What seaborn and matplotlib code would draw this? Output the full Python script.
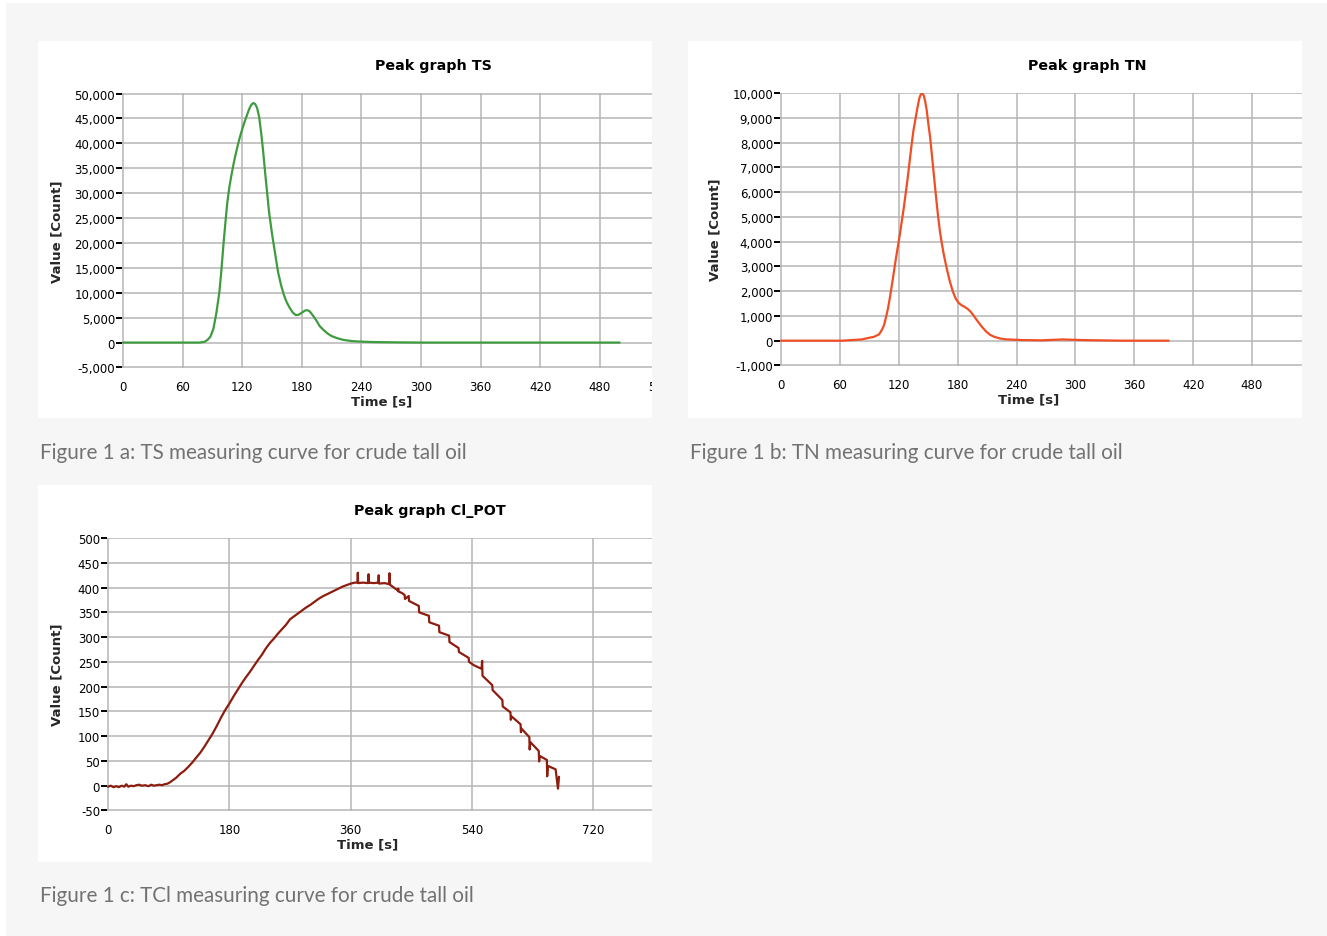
#peak graphs for crude tall oil (TS, TN, TCl)
#redrawn as three panels with captions on a light grey page

import matplotlib
matplotlib.use("Agg")
import matplotlib.pyplot as plt
from matplotlib.patches import Rectangle
from matplotlib.ticker import FuncFormatter, MultipleLocator
import pandas as pd
import seaborn as sns

sns.set_theme(style="whitegrid")
plt.rcParams['font.family'] = ['DejaVu Sans']

# TS curve (time in s, value in counts)
ts_time = [0, 20, 40, 60, 77, 82, 85, 88, 91, 94, 97, 99, 101, 103, 105, 107, 109,
           111, 113, 115, 117, 119, 121, 123, 125, 127, 129, 131, 133, 135, 137,
           139, 141, 143, 145, 147, 150, 153, 156, 159, 162, 165, 168, 171, 174,
           177, 180, 183, 185, 187, 189, 192, 195, 198, 202, 206, 210, 216, 222,
           230, 238, 250, 263, 280, 300, 400, 500]
ts_value = [0, 0, 0, 0, 0, 150, 530, 1200, 2800, 6000, 10200, 14500, 19500,
            24000, 28200, 31200, 33500, 35600, 37500, 39200, 40800, 42200, 43500,
            44700, 45800, 46900, 47700, 48100, 47900, 47100, 45300, 42200, 38500,
            34200, 30200, 26200, 21800, 18000, 14200, 11600, 9500, 8000, 6900,
            6000, 5500, 5600, 6000, 6400, 6500, 6400, 6000, 5200, 4300, 3300, 2500,
            1800, 1300, 850, 530, 300, 200, 110, 70, 30, 0, 0, 0]

# TN curve
tn_time = [0, 30, 62, 82, 95, 100, 103, 105, 107, 109, 111, 113, 115, 117, 119,
           121, 123, 125, 127, 129, 131, 133, 135, 137, 139, 141, 142.5, 144,
           145.5, 147, 148.5, 150, 152, 154, 156, 158, 160, 162, 164, 166, 169,
           172, 175, 178, 181, 184, 187, 190, 193, 196, 199, 202, 205, 209, 213,
           217, 223, 229, 246, 266, 286.5, 307, 348, 395]
tn_value = [0, 0, 0, 50, 160, 260, 450, 630, 950, 1300, 1750, 2250, 2770, 3300,
            3780, 4260, 4800, 5330, 5930, 6540, 7220, 7890, 8500, 8950, 9400, 9800,
            9950, 9980, 9900, 9650, 9300, 8800, 8200, 7400, 6600, 5800, 5050, 4400,
            3900, 3450, 2900, 2400, 2000, 1700, 1530, 1430, 1370, 1290, 1180, 1030,
            860, 700, 550, 370, 240, 160, 90, 55, 25, 15, 50, 25, 0, 0]

# Cl_POT curve (noisy baseline, spikes at the top, stepped descent)
cl_time = [0, 4, 8, 12, 16, 20, 24, 27, 30, 34, 38, 42, 46, 50, 55, 60, 64, 68,
           72, 76, 80, 84, 88, 92,
           96, 101, 107, 113, 119, 125, 131, 137, 143, 149, 155, 161, 167, 173,
           180, 186, 192, 198, 204, 210, 216, 222, 228, 234, 240, 246, 252, 258,
           264, 270, 276, 282, 288, 294, 300, 306, 312, 318, 324, 330, 336, 342,
           348, 354, 360, 366,
           370, 370.5, 371, 378, 386, 386.5, 387, 394, 401, 401.5, 402, 410, 417,
           417.5, 418, 424, 430, 430.5, 431, 436, 440, 440.5, 446, 446.5,
           461, 461.5, 476, 476.5, 491, 491.5, 506, 506.5, 520, 520.5, 535, 535.5,
           543, 554, 555, 555.5, 570, 570.5, 585, 585.5,
           597, 597.5, 598.5, 612, 612.5, 613.5, 625, 625.5, 626.5, 639, 639.5,
           640.5, 651, 651.5, 652.5, 664, 667.5, 669]
cl_value = [-2, 0, -3, -1, -3, 0, -2, 3, -2, 0, -1, 1, 2, 0, 1, -1, 2, 0,
            1, 2, 1, 3, 4, 7,
            11, 16, 24, 30, 38, 47, 57, 67, 79, 92, 105, 120, 136, 151,
            166, 180, 193, 206, 218, 229, 241, 253, 264, 277, 288, 297, 307, 316,
            325, 336, 342, 348, 354, 360, 365, 371, 377, 382, 386, 390, 394, 398,
            402, 405, 408, 410,
            410, 430, 409, 410, 409, 427, 410, 409, 410, 425, 408, 409, 407,
            429, 406, 400, 394, 398, 392, 389, 385, 377, 383, 373,
            363, 350, 343, 330, 323, 310, 303, 290, 278, 270, 258, 250,
            243, 236, 252, 222, 203, 193, 173, 160,
            148, 133, 140, 124, 108, 115, 98, 73, 88, 70, 49,
            60, 52, 19, 40, 33, -6, 18]

ts_ticks_y = list(range(-5000, 50001, 5000))
tn_ticks_y = list(range(-1000, 10001, 1000))
cl_ticks_y = list(range(-50, 501, 50))

captions = [
    "Figure 1 a: TS measuring curve for crude tall oil",
    "Figure 1 b: TN measuring curve for crude tall oil",
    "Figure 1 c: TCl measuring curve for crude tall oil",
]

W, H = 1327, 937
page = "#f6f6f6"
grid_col = "#b5b5b5"

fig = plt.figure(figsize=(W / 100, H / 100), dpi=100)
fig.patch.set_facecolor("white")


def frac(x0, y0, x1, y1):
    # pixel box (top-left origin) -> figure fraction rect
    return [x0 / W, 1 - y1 / H, (x1 - x0) / W, (y1 - y0) / H]


def fig_rect(x0, y0, x1, y1, color, z):
    r = Rectangle((x0 / W, 1 - y1 / H), (x1 - x0) / W, (y1 - y0) / H,
                  transform=fig.transFigure, facecolor=color, edgecolor="none",
                  zorder=z)
    fig.add_artist(r)


# page and white panels
fig_rect(6, 4, W, H, page, -3)
fig_rect(38, 42, 652, 419, "white", -2)
fig_rect(688, 42, 1302, 419, "white", -2)
fig_rect(38, 486, 652, 863, "white", -2)

panels = [
    dict(t=ts_time, v=ts_value, color="#3f9b40", box=(122, 94, 664.3, 369),
         xlim=545, xstep=60, yticks=ts_ticks_y, title="Peak graph TS",
         title_xy=(433, 66), ylab_x=57, xlab_y=402),
    dict(t=tn_time, v=tn_value, color="#f04e25", box=(780, 93.5, 1302, 367),
         xlim=531, xstep=60, yticks=tn_ticks_y, title="Peak graph TN",
         title_xy=(1087, 66), ylab_x=715, xlab_y=400),
    dict(t=cl_time, v=cl_value, color="#8c1d0f", box=(107, 538.5, 652, 812),
         xlim=807, xstep=180, yticks=cl_ticks_y, title="Peak graph Cl_POT",
         title_xy=(430, 511), ylab_x=57, xlab_y=845),
]

for p in panels:
    x0, y0, x1, y1 = p["box"]
    ax = fig.add_axes(frac(x0, y0, x1, y1))
    ax.set_facecolor("white")
    df = pd.DataFrame({"time": p["t"], "value": p["v"]})
    sns.lineplot(data=df, x="time", y="value", ax=ax, color=p["color"],
                 linewidth=1.6, estimator=None, sort=False)

    ymin, ymax = p["yticks"][0], p["yticks"][-1]
    pad = (ymax - ymin) * 0.002
    ax.set_ylim(ymin - pad, ymax + pad)
    ax.set_xlim(-p["xlim"] * 0.002, p["xlim"])
    ax.set_yticks(p["yticks"])
    ax.xaxis.set_major_locator(MultipleLocator(p["xstep"]))
    ax.yaxis.set_major_formatter(FuncFormatter(lambda v, _: f"{int(round(v)):,}"))

    ax.grid(True, color=grid_col, linewidth=1.1)
    for s in ax.spines.values():
        s.set_visible(False)
    ax.tick_params(axis="y", left=True, length=4, width=1.4, color="black",
                   pad=1, labelsize=8.5, labelcolor="black")
    ax.tick_params(axis="x", bottom=False, length=0, pad=8.5, labelsize=8.5,
                   labelcolor="black")

    ax.set_xlabel("Time [s]", fontsize=9.5, fontweight="bold")
    ax.set_ylabel("Value [Count]", fontsize=9.5, fontweight="bold")
    ax.yaxis.set_label_coords((p["ylab_x"] - x0) / (x1 - x0), 0.5)
    ax.yaxis.label.set_va("center")
    ax.xaxis.set_label_coords(((x0 + x1) / 2 - 12 - x0) / (x1 - x0),
                              -(p["xlab_y"] - y1) / (y1 - y0))
    ax.xaxis.label.set_va("center")

    tx, ty = p["title_xy"]
    fig.text(tx / W, 1 - ty / H, p["title"], ha="center", va="center",
             fontsize=10.3, fontweight="bold", color="black")

# gap between panel a and b hides the overhang of the first axes
fig_rect(652, 42, 688, 419, page, 5)

cap_font = dict(family=["Lato", "DejaVu Sans"], fontsize=14.9, color="#727272")
fig.text(40 / W, 1 - 459 / H, captions[0], ha="left", va="baseline", **cap_font)
fig.text(690 / W, 1 - 459 / H, captions[1], ha="left", va="baseline", **cap_font)
fig.text(40 / W, 1 - 902.5 / H, captions[2], ha="left", va="baseline", **cap_font)

fig.savefig("out.png", dpi=100, facecolor=fig.get_facecolor())
